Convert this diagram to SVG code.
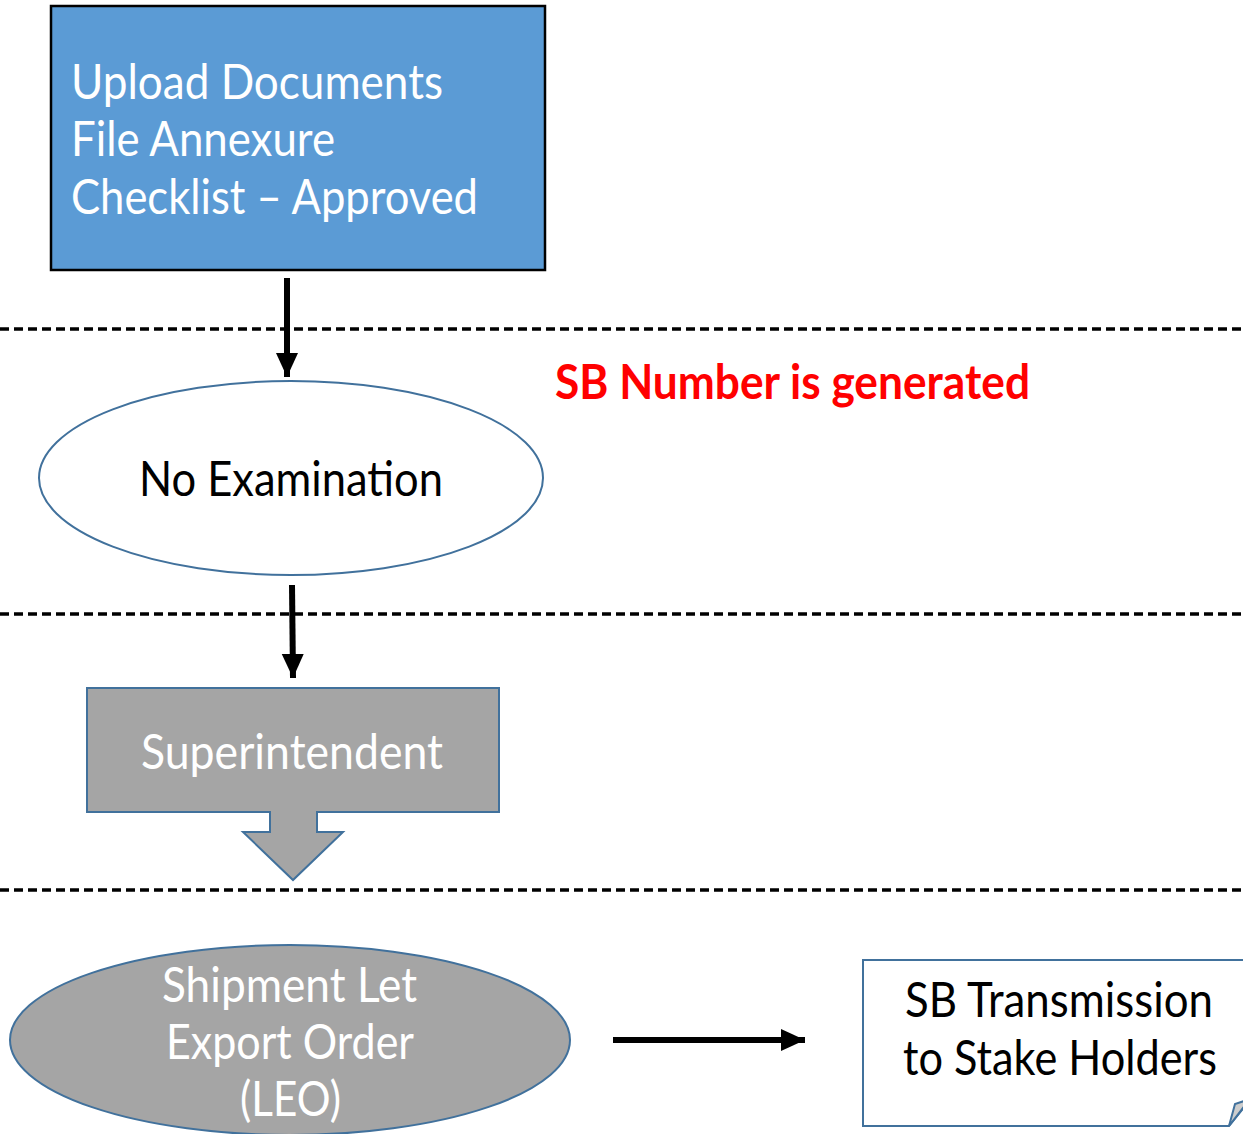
<svg xmlns="http://www.w3.org/2000/svg" width="1243" height="1134" viewBox="0 0 1243 1134">
<style>
.t{font-family:Lato,"Open Sans","Liberation Sans",sans-serif;font-size:48px}
.w{fill:#FFFFFF}
.k{fill:#000000}
.dash{stroke:#000;stroke-width:3.5;stroke-dasharray:9 5;fill:none}
.conn{stroke:#000;stroke-width:6;fill:none}
</style>
<defs>
<marker id="ah" markerUnits="userSpaceOnUse" markerWidth="26" markerHeight="26" viewBox="0 0 26 26" refX="24" refY="13" orient="auto">
<path d="M0,2 L24,13 L0,24 Z" fill="#000"/>
</marker>
</defs>
<rect width="1243" height="1134" fill="#FFFFFF"/>
<g id="separators">
<line class="dash" x1="0" y1="329" x2="1243" y2="329"/>
<line class="dash" x1="0" y1="614" x2="1243" y2="614"/>
<line class="dash" x1="0" y1="890" x2="1243" y2="890"/>
</g>
<g id="upload">
<rect x="51" y="6" width="494" height="264" fill="#5B9BD5" stroke="#000" stroke-width="2.5"/>
<text class="t w" x="71" y="99" textLength="372" lengthAdjust="spacingAndGlyphs">Upload Documents</text>
<text class="t w" x="71" y="156" textLength="264" lengthAdjust="spacingAndGlyphs">File Annexure</text>
<text class="t w" x="71" y="214" textLength="407" lengthAdjust="spacingAndGlyphs">Checklist – Approved</text>
</g>
<g id="sbnumber">
<text class="t" x="555" y="399" fill="#FF0000" font-weight="bold" textLength="475" lengthAdjust="spacingAndGlyphs">SB Number is generated</text>
</g>
<g id="noexam">
<ellipse cx="291" cy="478" rx="252" ry="97" fill="#FFFFFF" stroke="#41719C" stroke-width="2"/>
<text class="t k" x="139" y="496" textLength="304" lengthAdjust="spacingAndGlyphs">No Examination</text>
</g>
<g id="superintendent">
<path d="M87,688 H499 V812 H317 V832 H343 L293,880 L243,832 H270 V812 H87 Z" fill="#A5A5A5" stroke="#41719C" stroke-width="2"/>
<text class="t w" x="141" y="769" textLength="302" lengthAdjust="spacingAndGlyphs">Superintendent</text>
</g>
<g id="leo">
<ellipse cx="290" cy="1040" rx="280" ry="95" fill="#A5A5A5" stroke="#41719C" stroke-width="2"/>
<text class="t w" x="162" y="1002" textLength="255" lengthAdjust="spacingAndGlyphs">Shipment Let</text>
<text class="t w" x="166" y="1059" textLength="248" lengthAdjust="spacingAndGlyphs">Export Order</text>
<text class="t w" x="240" y="1116" textLength="101" lengthAdjust="spacingAndGlyphs">(LEO)</text>
</g>
<g id="transmission">
<path d="M863,960 H1250 V1100 L1229,1126 H863 Z" fill="#FFFFFF" stroke="#41719C" stroke-width="2"/>
<path d="M1229,1126 L1235,1104 L1250,1099 Z" fill="#CDCDCD" stroke="#41719C" stroke-width="2"/>
<text class="t k" x="905" y="1017" textLength="308" lengthAdjust="spacingAndGlyphs">SB Transmission</text>
<text class="t k" x="903" y="1075" textLength="314" lengthAdjust="spacingAndGlyphs">to Stake Holders</text>
</g>
<g id="connectors">
<line class="conn" x1="287" y1="278" x2="287" y2="377" marker-end="url(#ah)"/>
<line class="conn" x1="292" y1="585" x2="293" y2="678" marker-end="url(#ah)"/>
<line class="conn" x1="613" y1="1040" x2="805" y2="1040" marker-end="url(#ah)"/>
</g>
</svg>
